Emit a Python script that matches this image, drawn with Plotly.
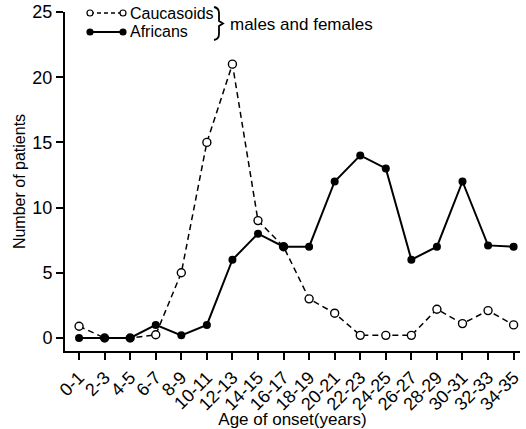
import plotly.graph_objects as go

categories = ["0-1", "2-3", "4-5", "6-7", "8-9", "10-11", "12-13", "14-15", "16-17",
              "18-19", "20-21", "22-23", "24-25", "26-27", "28-29", "30-31", "32-33", "34-35"]
caucasoids = [0.9, 0, 0, 0.25, 5, 15, 21, 9, 7, 3, 1.9, 0.2, 0.2, 0.2, 2.2, 1.1, 2.1, 1.0]
africans = [0, 0, 0, 1, 0.2, 1, 6, 8, 7, 7, 12, 14, 13, 6, 7, 12, 7.1, 7]
y_ticks = [0, 5, 10, 15, 20, 25]

FONT = "Liberation Sans"
xi = list(range(len(categories)))

fig = go.Figure()
fig.add_trace(go.Scatter(
    x=xi, y=caucasoids, mode="lines+markers", name="Caucasoids",
    line=dict(color="black", width=1.5, dash="6px,4px"),
    marker=dict(symbol="circle", size=8, color="white", line=dict(color="black", width=1.4)),
))
fig.add_trace(go.Scatter(
    x=xi, y=africans, mode="lines+markers", name="Africans",
    line=dict(color="black", width=2),
    marker=dict(symbol="circle", size=8, color="black"),
))

# legend drawn as decoration in pixel-like paper coordinates
W, H = 526, 429
ml, mr, mt, mb = 65, 6, 12, 78
pw, ph = W - ml - mr, H - mt - mb
def px(x): return (x - ml) / pw
def py(y): return 1 - (y - mt) / ph

shapes = []
shapes.append(dict(type="line", xref="paper", yref="paper", x0=px(90), x1=px(123), y0=py(13), y1=py(13),
                   line=dict(color="black", width=1.3, dash="4px,3px")))
shapes.append(dict(type="line", xref="paper", yref="paper", x0=px(90), x1=px(123), y0=py(32), y1=py(32),
                   line=dict(color="black", width=2)))
for cx, cy, fill in [(90, 13, "white"), (123, 13, "white"), (90, 32, "black"), (123, 32, "black")]:
    r = 3
    shapes.append(dict(type="circle", xref="paper", yref="paper",
                       x0=px(cx - r), x1=px(cx + r), y0=py(cy + r), y1=py(cy - r),
                       fillcolor=fill, line=dict(color="black", width=1.2)))
# curly brace
bp = [(214, 7), (219, 8), (219, 13), (219, 21), (223, 23.5), (219, 26), (219, 34), (219, 39), (214, 40)]
def P(p): return f"{px(p[0])},{py(p[1])}"
path = (f"M {P(bp[0])} Q {P(bp[1])} {P(bp[2])} L {P(bp[3])} L {P(bp[4])} L {P(bp[5])} "
        f"L {P(bp[6])} Q {P(bp[7])} {P(bp[8])}")
shapes.append(dict(type="path", xref="paper", yref="paper", path=path,
                   line=dict(color="black", width=1.8)))

annotations = [
    dict(text="Caucasoids", x=px(128), y=py(13), xref="paper", yref="paper", xanchor="left",
         yanchor="middle", showarrow=False, font=dict(family=FONT, size=16, color="black")),
    dict(text="Africans", x=px(128), y=py(32), xref="paper", yref="paper", xanchor="left",
         yanchor="middle", showarrow=False, font=dict(family=FONT, size=16, color="black")),
    dict(text="males and females", x=px(228), y=py(24), xref="paper", yref="paper", xanchor="left",
         yanchor="middle", showarrow=False, font=dict(family=FONT, size=17, color="black")),
]

fig.update_layout(
    width=W, height=H,
    margin=dict(l=ml, r=mr, t=mt, b=mb),
    paper_bgcolor="white", plot_bgcolor="white",
    showlegend=False,
    font=dict(family=FONT, size=16, color="black"),
    shapes=shapes, annotations=annotations,
)
fig.update_xaxes(
    range=[-0.55, 17.25], tickmode="array", tickvals=xi, ticktext=categories,
    tickangle=-45, ticks="outside", ticklen=7, tickwidth=1.5, tickcolor="black",
    showline=True, linecolor="black", linewidth=2, showgrid=False, zeroline=False,
    automargin=False, tickfont=dict(family=FONT, size=18, color="black"),
    title=dict(text="Age of onset(years)", font=dict(family=FONT, size=17, color="black"), standoff=1),
)
fig.update_yaxes(
    range=[-1, 25], tickmode="array", tickvals=y_ticks,
    ticks="outside", ticklen=7, tickwidth=1.5, tickcolor="black",
    showline=True, linecolor="black", linewidth=2, showgrid=False, zeroline=False,
    automargin=False, tickfont=dict(family=FONT, size=18, color="black"),
    title=dict(text="Number of patients", font=dict(family=FONT, size=16, color="black"), standoff=3),
)
fig.write_html("out.html", config={"displayModeBar": False},
               post_script="document.body.style.margin='0px';")
